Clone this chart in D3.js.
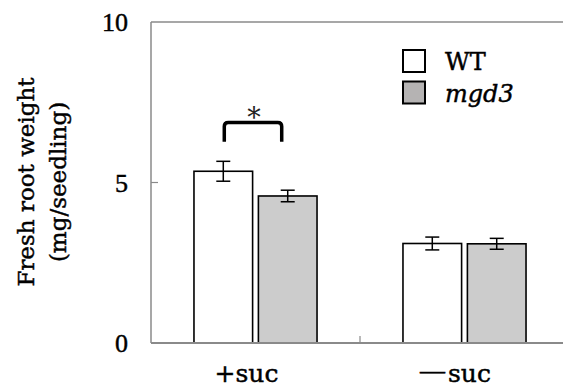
<!DOCTYPE html>
<html>
<head>
<meta charset="utf-8">
<script src="https://cdn.jsdelivr.net/npm/d3@7"></script>
<style>
  html, body { margin: 0; padding: 0; background: #fff; }
  svg { display: block; }
  .lbl { stroke: #000; stroke-width: 0.45px; paint-order: stroke; }
</style>
</head>
<body>
<svg id="chart" width="563" height="390"></svg>
<script>
// Fresh root weight of WT and mgd3 seedlings, with and without sucrose
const conditions = ["+suc", "\u2014suc"];
const genotypes = ["WT", "mgd3"];
const meanWT = [5.35, 3.10];
const meanMgd3 = [4.58, 3.09];
const errWT = [0.31, 0.20];
const errMgd3 = [0.18, 0.17];
const yTicks = [0, 5, 10];
// significance bracket over +suc: top level and leg-end level (mg/seedling)
const sigBracket = [6.87, 6.27];

const rows = [];
conditions.forEach((c, i) => {
  rows.push({ cond: c, geno: "WT", mean: meanWT[i], err: errWT[i] });
  rows.push({ cond: c, geno: "mgd3", mean: meanMgd3[i], err: errMgd3[i] });
});

const svg = d3.select("#chart");
const plotLeft = 151, plotTop = 22, plotBottom = 343, plotRight = 569;

const y = d3.scaleLinear().domain([0, 10]).range([plotBottom, plotTop]);
const x0 = d3.scaleBand().domain(conditions).range([plotLeft, plotRight]).padding(0);
const x1 = d3.scaleBand().domain(genotypes).range([0, x0.bandwidth()])
  .paddingInner(0.09).paddingOuter(0.667);
const fill = d3.scaleOrdinal().domain(genotypes).range(["#ffffff", "#cccccc"]);

const serif = "'Liberation Serif', 'DejaVu Serif', serif";
const serif2 = "'DejaVu Serif', 'Liberation Serif', serif";
const axisColor = "#8a8a8a";

// frame: top border
svg.append("line").attr("x1", plotLeft).attr("x2", 563).attr("y1", plotTop).attr("y2", plotTop)
  .attr("stroke", axisColor).attr("stroke-width", 1.5);

// bars
svg.append("g").selectAll("rect").data(rows).join("rect")
  .attr("x", d => x0(d.cond) + x1(d.geno))
  .attr("y", d => y(d.mean))
  .attr("width", x1.bandwidth())
  .attr("height", d => y(0) - y(d.mean))
  .attr("fill", d => fill(d.geno))
  .attr("stroke", "#000").attr("stroke-width", 1.6);

// error bars
const cap = 7;
const eb = svg.append("g").attr("stroke", "#000").attr("stroke-width", 1.5);
rows.forEach(d => {
  const cx = x0(d.cond) + x1(d.geno) + x1.bandwidth() / 2;
  eb.append("line").attr("x1", cx).attr("x2", cx)
    .attr("y1", y(d.mean + d.err)).attr("y2", y(d.mean - d.err));
  eb.append("line").attr("x1", cx - cap).attr("x2", cx + cap)
    .attr("y1", y(d.mean + d.err)).attr("y2", y(d.mean + d.err));
  eb.append("line").attr("x1", cx - cap).attr("x2", cx + cap)
    .attr("y1", y(d.mean - d.err)).attr("y2", y(d.mean - d.err));
});

// axes drawn as lines with inward ticks
svg.append("line").attr("x1", plotLeft).attr("x2", plotLeft).attr("y1", plotTop).attr("y2", plotBottom)
  .attr("stroke", axisColor).attr("stroke-width", 1.5);
svg.append("line").attr("x1", plotLeft).attr("x2", 563).attr("y1", plotBottom).attr("y2", plotBottom)
  .attr("stroke", axisColor).attr("stroke-width", 2);
svg.append("line").attr("x1", plotLeft).attr("x2", plotLeft + 7).attr("y1", y(5)).attr("y2", y(5))
  .attr("stroke", axisColor).attr("stroke-width", 1.2);
svg.append("line").attr("x1", x0(conditions[1])).attr("x2", x0(conditions[1]))
  .attr("y1", plotBottom).attr("y2", plotBottom - 7)
  .attr("stroke", axisColor).attr("stroke-width", 1.2);

// y tick labels
svg.append("g").selectAll("text").data(yTicks).join("text")
  .attr("class", "lbl")
  .attr("x", 128).attr("y", d => y(d) + 9)
  .attr("text-anchor", "end")
  .attr("font-family", serif).attr("font-size", 26)
  .text(d => d);

// x labels; the leading sign is set slightly raised
const xl = svg.append("g").selectAll("text").data(conditions).join("text")
  .attr("class", "lbl")
  .attr("x", d => x0(d) + x0.bandwidth() / 2 - 9)
  .attr("y", 381.5)
  .attr("text-anchor", "middle")
  .attr("font-family", serif2).attr("font-size", 25);
xl.append("tspan")
  .attr("font-family", d => d[0] === "+" ? serif2 : serif)
  .attr("dy", d => d[0] === "+" ? 0 : -3)
  .text(d => d[0]);
xl.append("tspan")
  .attr("dx", d => d[0] === "+" ? 0 : 3)
  .attr("dy", d => d[0] === "+" ? 0 : 3)
  .text(d => d.slice(1));

// y axis title
const title = svg.append("text")
  .attr("class", "lbl")
  .attr("transform", "translate(0,182) rotate(-90)")
  .attr("text-anchor", "middle")
  .attr("font-family", serif2).attr("font-size", 23);
title.append("tspan").attr("x", 0).attr("y", 34).text("Fresh root weight");
title.append("tspan").attr("x", 0).attr("y", 66).text("(mg/seedling)");

// significance bracket
const bx1 = x0(conditions[0]) + x1("WT") + x1.bandwidth() / 2 + 1;
const bx2 = x0(conditions[0]) + x1("mgd3") + x1.bandwidth() / 2 - 6;
const by = y(sigBracket[0]), byLeg = y(sigBracket[1]), r = 4;
svg.append("path")
  .attr("d", `M${bx1},${byLeg} L${bx1},${by + r} Q${bx1},${by} ${bx1 + r},${by}` +
    ` L${bx2 - r},${by} Q${bx2},${by} ${bx2},${by + r} L${bx2},${byLeg}`)
  .attr("fill", "none").attr("stroke", "#000").attr("stroke-width", 3.5);
svg.append("text")
  .attr("x", (bx1 + bx2) / 2 + 1).attr("y", by + 5)
  .attr("text-anchor", "middle")
  .attr("font-family", serif2).attr("font-size", 27).attr("fill", "#222")
  .text("*");

// legend
const lg = svg.append("g").attr("transform", "translate(403,50)");
genotypes.forEach((g, i) => {
  lg.append("rect").attr("x", 0).attr("y", i * 31.5).attr("width", 22).attr("height", 22)
    .attr("fill", i === 0 ? "#ffffff" : "#b5b3b3").attr("stroke", "#000").attr("stroke-width", 2);
  lg.append("text").attr("class", "lbl").attr("x", 42).attr("y", i * 31.5 + 20)
    .attr("font-family", serif2).attr("font-size", 24)
    .attr("font-style", i === 1 ? "italic" : "normal")
    .text(g);
});
</script>
</body>
</html>
